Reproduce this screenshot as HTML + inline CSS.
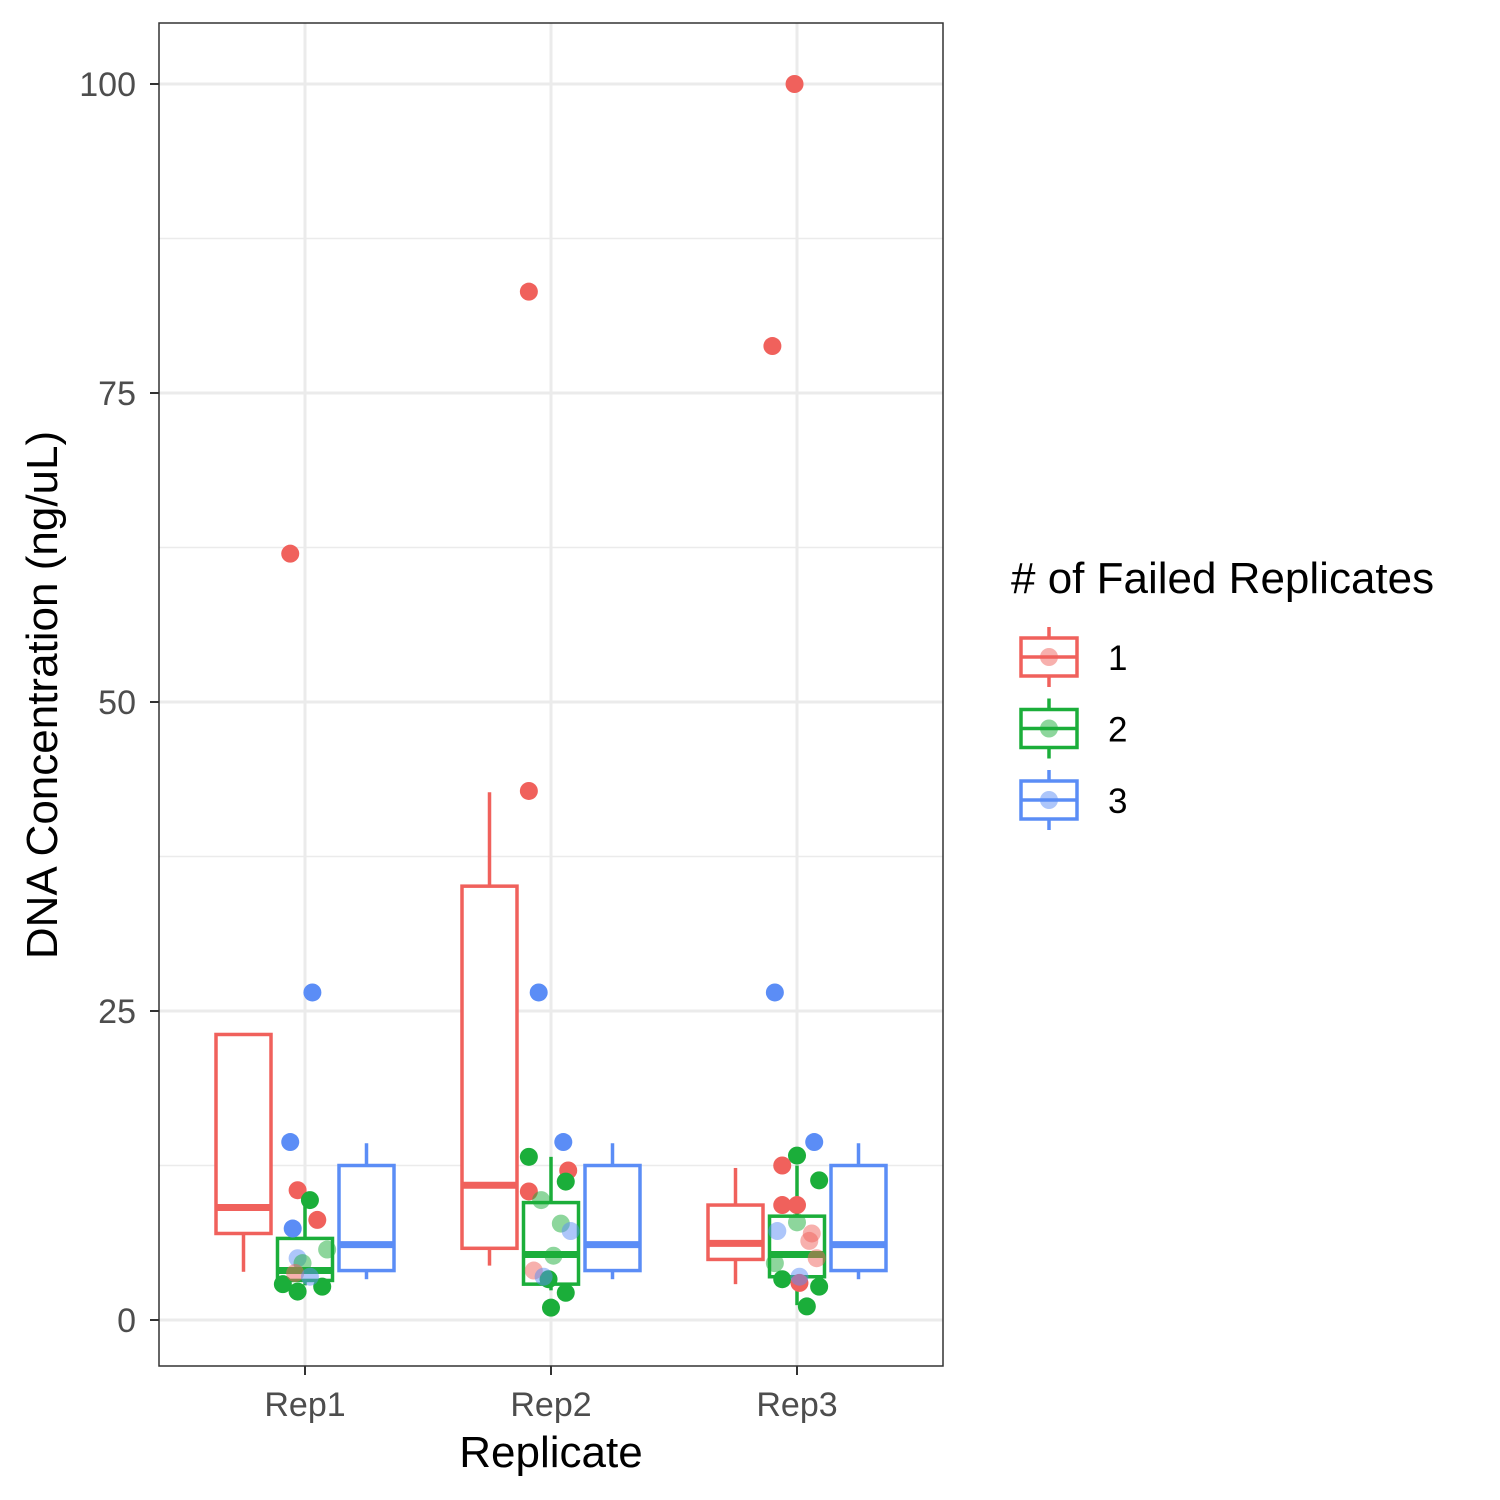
<!DOCTYPE html>
<html><head><meta charset="utf-8"><style>
html,body{margin:0;padding:0;background:#fff}
svg{display:block;font-family:"Liberation Sans",Arial,sans-serif}
</style></head><body>
<svg id="chart" width="1500" height="1500" viewBox="0 0 1500 1500">
  <rect x="159" y="23" width="784" height="1343" fill="#fff"/>
  <g id="grid"></g>
  <g id="boxes"></g>
  <g id="pts"></g>
  <rect x="159" y="23" width="784" height="1343" fill="none" stroke="#333" stroke-width="1.5"/>
  <g id="axes"></g>
  <text x="551" y="1467" font-size="44" text-anchor="middle" fill="#000">Replicate</text>
  <text transform="translate(57,695) rotate(-90)" font-size="44" text-anchor="middle" fill="#000">DNA Concentration (ng/uL)</text>
  <text x="1011" y="593" font-size="44" fill="#000"># of Failed Replicates</text>
  <g id="legend"></g>
</svg>
<script>
const categories = ["Rep1","Rep2","Rep3"];
const groups = ["1","2","3"];
const colors = ["#F0615C","#1BAE3A","#5B8DF6"];
const yTicks = [0,25,50,75,100];
// box stats: [category index, group index, low, q1, median, q3, high]
const boxStats = [
  [0,0,3.9,7.0,9.1,23.1,23.1],
  [0,1,2.8,3.2,4.0,6.6,9.5],
  [0,2,3.3,4.0,6.1,12.5,14.3],
  [1,0,4.4,5.8,10.9,35.1,42.7],
  [1,1,2.4,2.9,5.3,9.5,13.2],
  [1,2,3.3,4.0,6.1,12.5,14.3],
  [2,0,2.9,4.9,6.2,9.3,12.3],
  [2,1,1.2,3.5,5.3,8.4,12.5],
  [2,2,3.3,4.0,6.1,12.5,14.3]
];
// points: [category index, group index, jitter (category units), value, faded 0/1]
const points = [
  [0,0,-0.06,62,0],[0,2,0.03,26.5,0],[0,2,-0.06,14.4,0],[0,0,-0.03,10.5,0],[0,1,0.02,9.7,0],
  [0,0,0.05,8.1,0],[0,2,-0.05,7.4,0],[0,1,-0.09,2.9,0],[0,1,-0.03,2.3,0],[0,1,0.07,2.7,0],
  [0,1,0.09,5.7,1],[0,2,-0.03,5.0,1],[0,1,-0.01,4.6,1],[0,0,-0.04,3.8,1],[0,2,0.02,3.5,1],
  [1,0,-0.09,83.2,0],[1,0,-0.09,42.8,0],[1,2,-0.05,26.5,0],[1,2,0.05,14.4,0],[1,1,-0.09,13.2,0],
  [1,0,0.07,12.1,0],[1,1,0.06,11.2,0],[1,0,-0.09,10.4,0],[1,1,0.0,1.0,0],[1,1,0.06,2.2,0],[1,1,-0.01,3.3,0],
  [1,1,-0.04,9.7,1],[1,1,0.04,7.8,1],[1,2,0.08,7.2,1],[1,1,0.01,5.2,1],[1,0,-0.07,4.0,1],[1,2,-0.03,3.5,1],
  [2,0,-0.01,100,0],[2,0,-0.1,78.8,0],[2,2,-0.09,26.5,0],[2,2,0.07,14.4,0],[2,1,0.0,13.3,0],
  [2,0,-0.06,12.5,0],[2,1,0.09,11.3,0],[2,0,-0.06,9.3,0],[2,0,0.0,9.3,0],[2,1,-0.06,3.3,0],
  [2,1,0.09,2.7,0],[2,0,0.01,3.0,0],[2,1,0.04,1.1,0],
  [2,2,-0.08,7.2,1],[2,1,0.0,7.9,1],[2,0,0.05,6.4,1],[2,0,0.06,7.0,1],[2,2,0.01,3.5,1],[2,0,0.08,5.0,1],[2,1,-0.09,4.6,1]
];

const NS="http://www.w3.org/2000/svg";
function yScale(v){return 1320-12.36*v;}
function xCat(i){return 305+246*i;}
function xGroup(c,g){return xCat(c)+(g-1)*61.5;}
function xJit(c,j){return xCat(c)+j*246;}
function mk(parent,tag,attrs){const e=document.createElementNS(NS,tag);for(const k in attrs)e.setAttribute(k,attrs[k]);parent.appendChild(e);return e;}

const grid=document.getElementById('grid');
for(let i=0;i<yTicks.length-1;i++){
  const v=(yTicks[i]+yTicks[i+1])/2;
  const l=mk(grid,'line',{x1:159,x2:943,y1:yScale(v),y2:yScale(v),stroke:'#ebebeb','stroke-width':1.5});
  
  
}
yTicks.forEach(v=>{
  const l=mk(grid,'line',{x1:159,x2:943,y1:yScale(v),y2:yScale(v),stroke:'#ebebeb','stroke-width':3});
  
  
});
categories.forEach((c,i)=>{
  const l=mk(grid,'line',{x1:xCat(i),x2:xCat(i),y1:23,y2:1366,stroke:'#ebebeb','stroke-width':3});
  
  
});

const boxes=document.getElementById('boxes');
const hw=27.5;
boxStats.forEach(b=>{
  const [c,g,lo,q1,med,q3,hi]=b;
  const x=xGroup(c,g), col=colors[g];
  const gr=mk(boxes,'g',{stroke:col,'stroke-width':3.5,fill:'#fff'});
  
  
  mk(gr,'line',{x1:x,x2:x,y1:yScale(q3),y2:yScale(hi)});
  mk(gr,'line',{x1:x,x2:x,y1:yScale(q1),y2:yScale(lo)});
  mk(gr,'rect',{x:x-hw,y:yScale(q3),width:2*hw,height:yScale(q1)-yScale(q3)});
  mk(gr,'line',{x1:x-hw,x2:x+hw,y1:yScale(med),y2:yScale(med),'stroke-width':7});
});

const pts=document.getElementById('pts');
points.forEach(p=>{
  const [c,g,j,v,f]=p;
  const e=mk(pts,'circle',{cx:xJit(c,j),cy:yScale(v),r:9,fill:colors[g],'fill-opacity':f?0.5:1});
  
  
});

const axes=document.getElementById('axes');
yTicks.forEach(v=>{
  const t=mk(axes,'line',{x1:150,x2:159,y1:yScale(v),y2:yScale(v),stroke:'#333','stroke-width':2});
  
  
  const tx=mk(axes,'text',{x:136,y:yScale(v)+12,'font-size':34,'text-anchor':'end',fill:'#4d4d4d'});
  tx.textContent=v;
  
  
});
categories.forEach((c,i)=>{
  const t=mk(axes,'line',{x1:xCat(i),x2:xCat(i),y1:1366,y2:1375,stroke:'#333','stroke-width':2});
  
  
  const tx=mk(axes,'text',{x:xCat(i),y:1416,'font-size':34,'text-anchor':'middle',fill:'#4d4d4d'});
  tx.textContent=c;
  
  
});

const leg=document.getElementById('legend');
groups.forEach((g,i)=>{
  const cy=657+71.5*i, col=colors[i];
  const gr=mk(leg,'g',{});
  
  
  mk(gr,'line',{x1:1049,x2:1049,y1:cy-30,y2:cy+30,stroke:col,'stroke-width':3.5});
  mk(gr,'rect',{x:1021,y:cy-19,width:56,height:38,fill:'#fff',stroke:col,'stroke-width':3.5});
  mk(gr,'circle',{cx:1049,cy:cy,r:9,fill:col,'fill-opacity':0.5});
  mk(gr,'line',{x1:1021,x2:1077,y1:cy,y2:cy,stroke:col,'stroke-width':3.5});
  const tx=mk(gr,'text',{x:1108,y:cy+13,'font-size':35,fill:'#000'});
  tx.textContent=g;
});
</script>
</body></html>
